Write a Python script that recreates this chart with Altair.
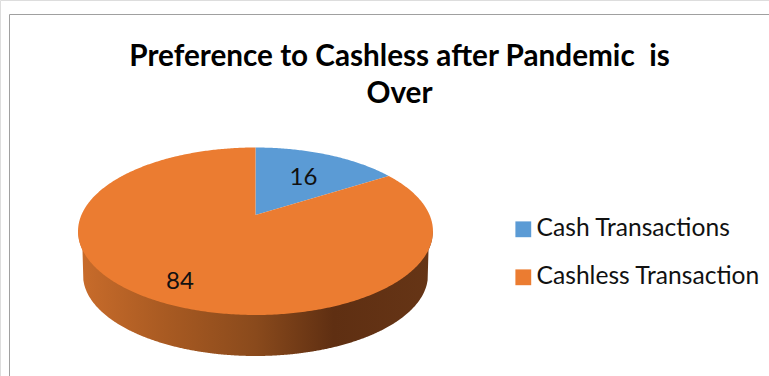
import altair as alt
import numpy as np
import pandas as pd

categories = ["Cash Transactions", "Cashless Transaction"]
values = [16, 84]
colors = ["#5B9BD5", "#EB7C31"]
title_lines = ["Preference to Cashless after Pandemic \u00a0is", "Over"]
label_reach = [0.62, 0.79]

# Tilted disc: a unit circle seen in perspective.
TILT = 0.194


def project(u, v, tilt=TILT):
    d = 1 - tilt * v
    return u / d, v / d


shares = np.array(values) / sum(values)
edges = np.concatenate([[0], np.cumsum(shares)]) * 2 * np.pi

slice_rows = []
label_rows = []
for i, name in enumerate(categories):
    start, end = edges[i], edges[i + 1]
    n = max(2, int((end - start) * 90))
    angles = np.linspace(start, end, n)
    sx, sy = project(np.sin(angles), -np.cos(angles))
    order = 0
    slice_rows.append({"cat": name, "sx": 0.0, "sy": 0.0, "o": order})
    for a, b in zip(sx, sy):
        order += 1
        slice_rows.append({"cat": name, "sx": float(a), "sy": float(b), "o": order})
    order += 1
    slice_rows.append({"cat": name, "sx": 0.0, "sy": 0.0, "o": order})
    mid = (start + end) / 2
    lx, ly = project(label_reach[i] * np.sin(mid), -label_reach[i] * np.cos(mid))
    label_rows.append({"cat": name, "sx": float(lx), "sy": float(ly), "value": values[i]})

# Side wall: area between the lower rim of the top face and the rim of the base.
rim_hw = 1 / np.sqrt(1 - TILT**2)
rim_cy = TILT / (1 - TILT**2)
rim_hh = 1 / (1 - TILT**2)
base_hw, base_cy, base_hh = 0.9908, 0.7444, 1.005
wall_x = np.linspace(-rim_hw, rim_hw, 400)
wall_top = rim_cy + rim_hh * np.sqrt(np.clip(1 - (wall_x / rim_hw) ** 2, 0, 1))
inside = np.abs(wall_x) <= base_hw
wall_low = np.where(
    inside,
    base_cy + base_hh * np.sqrt(np.clip(1 - (wall_x / base_hw) ** 2, 0, 1)),
    wall_top,
)
wall = pd.DataFrame({"sx": wall_x, "sy": rim_cy, "sy2": np.maximum(wall_top, wall_low)})

x_scale = alt.Scale(domain=[-1.4675, 2.9495], range=[0, 769], nice=False, zero=False)
y_scale = alt.Scale(domain=[-2.6675, 1.9975], range=[0, 376], nice=False, zero=False)
X = alt.X("sx:Q", scale=x_scale, axis=None)
Y = alt.Y("sy:Q", scale=y_scale, axis=None)

wall_layer = (
    alt.Chart(wall)
    .mark_area(
        color=alt.Gradient(
            gradient="linear",
            x1=0, x2=1, y1=0, y2=0,
            stops=[
                alt.GradientStop(color="#C96C2B", offset=0),
                alt.GradientStop(color="#A85A22", offset=0.25),
                alt.GradientStop(color="#8A4A1C", offset=0.5),
                alt.GradientStop(color="#5F2F12", offset=0.72),
                alt.GradientStop(color="#663516", offset=1),
            ],
        )
    )
    .encode(x=X, y=Y, y2="sy2:Q")
)

slices = (
    alt.Chart(pd.DataFrame(slice_rows))
    .mark_line(filled=True, strokeWidth=0, interpolate="linear")
    .encode(
        x=X,
        y=Y,
        order="o:Q",
        color=alt.Color(
            "cat:N",
            scale=alt.Scale(domain=categories, range=colors),
            legend=alt.Legend(
                title=None,
                orient="none",
                legendX=511,
                legendY=217,
                symbolType="square",
                symbolSize=250,
                symbolStrokeWidth=0,
                labelFont="Lato",
                labelFontSize=24.6,
                labelLimit=300,
                labelColor="#111111",
                labelOffset=1,
                rowPadding=23,
            ),
        ),
    )
)

labels = (
    alt.Chart(pd.DataFrame(label_rows))
    .mark_text(font="Lato", fontSize=24, color="#111111", baseline="middle", dx=1, dy=3)
    .encode(x=X, y=Y, text="value:Q")
)

top_rule = alt.Chart().mark_rule(color="#A0A0A0", strokeWidth=1).encode(
    x=alt.value(9.5), x2=alt.value(769), y=alt.value(14.5)
)
left_rule = alt.Chart().mark_rule(color="#A0A0A0", strokeWidth=1).encode(
    x=alt.value(9.5), y=alt.value(14.5), y2=alt.value(376)
)

chart = (
    alt.layer(top_rule, left_rule, wall_layer, slices, labels)
    .properties(
        width=769,
        height=376,
        padding=0,
        autosize=alt.AutoSizeParams(type="none"),
        title=alt.TitleParams(
            text=title_lines,
            anchor="middle",
            frame="group",
            font="Lato",
            fontSize=29.7,
            fontWeight="bold",
            color="#000000",
            lineHeight=37,
            baseline="alphabetic",
            dx=15,
            dy=133,
            offset=0,
        ),
    )
    .configure_view(stroke=None)
    .configure(background="white")
)

chart.save("out.html", embed_options={"renderer": "svg", "actions": False})
